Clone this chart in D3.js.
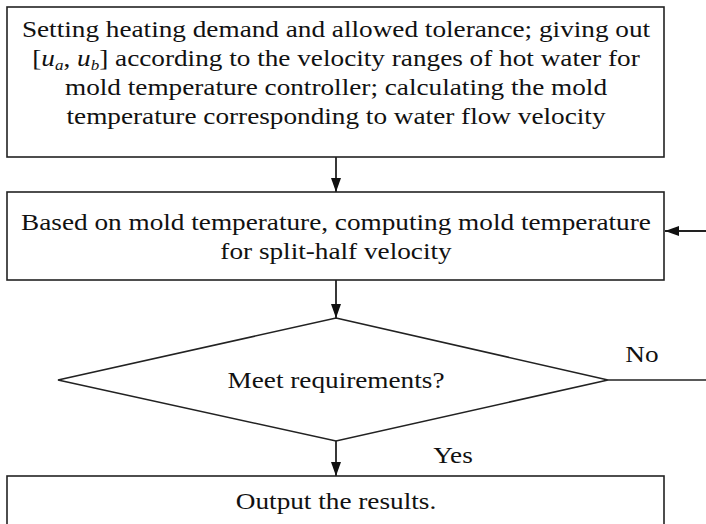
<!DOCTYPE html>
<html>
<head>
<meta charset="utf-8">
<script src="https://cdn.jsdelivr.net/npm/d3@7"></script>
<style>
  body { margin: 0; background: #fff; }
  text { font-family: "Liberation Serif", "Times New Roman", serif; fill: #111; }
</style>
</head>
<body>
<div id="chart"></div>
<script>
// flowchart content
const stepLines1 = [
  "Setting heating demand and allowed tolerance; giving out",
  "[ua, ub] according to the velocity ranges of hot water for",
  "mold temperature controller; calculating the mold",
  "temperature corresponding to water flow velocity"
];
const stepLines2 = [
  "Based on mold temperature, computing mold temperature",
  "for split-half velocity"
];
const decisionText = "Meet requirements?";
const outputText = "Output the results.";
const branchLabels = ["No", "Yes"];

/** CONSTANTS */
const width = 706, height = 524;
const boxLeft = 7, boxRight = 664, cx = 336;
const fontSize = 24, lineGap = 29, stretch = 1.135;
const stroke = "#222";

const svg = d3.select("#chart").append("svg")
  .attr("width", width)
  .attr("height", height);

svg.append("defs").append("marker")
  .attr("id", "arrow")
  .attr("viewBox", "0 0 10 10")
  .attr("refX", 10).attr("refY", 5)
  .attr("markerWidth", 14).attr("markerHeight", 10)
  .attr("markerUnits", "userSpaceOnUse")
  .attr("orient", "auto")
  .attr("preserveAspectRatio", "none")
  .append("path")
  .attr("d", "M0,0 L10,5 L0,10 z")
  .attr("fill", "#111");

// boxes: top, bottom
const boxes = [
  { y0: 7, y1: 157 },
  { y0: 192, y1: 280 },
  { y0: 476, y1: 540 }
];

svg.selectAll("rect.box")
  .data(boxes)
  .join("rect")
  .attr("class", "box")
  .attr("x", boxLeft)
  .attr("y", d => d.y0)
  .attr("width", boxRight - boxLeft)
  .attr("height", d => d.y1 - d.y0)
  .attr("fill", "none")
  .attr("stroke", stroke)
  .attr("stroke-width", 1.6);

// centred text, slightly wide like the source figure
function label(x, y, str) {
  return svg.append("text")
    .attr("transform", `translate(${x},${y}) scale(${stretch},1)`)
    .attr("dy", "0.35em")
    .attr("text-anchor", "middle")
    .style("font-size", fontSize + "px")
    .text(str);
}

function block(lines, centerY) {
  const startY = centerY - (lines.length - 1) * lineGap / 2;
  lines.forEach((ln, i) => {
    const y = startY + i * lineGap;
    if (ln.startsWith("[ua, ub]")) {
      const t = label(cx, y, null);
      t.append("tspan").text("[");
      t.append("tspan").style("font-style", "italic").text("u");
      t.append("tspan").attr("baseline-shift", "-25%").style("font-size", "15px").style("font-style", "italic").text("a");
      t.append("tspan").text(", ");
      t.append("tspan").style("font-style", "italic").text("u");
      t.append("tspan").attr("baseline-shift", "-25%").style("font-size", "15px").style("font-style", "italic").text("b");
      t.append("tspan").text(ln.slice(7));
    } else {
      label(cx, y, ln);
    }
  });
}

block(stepLines1, 72);
block(stepLines2, 236);

// diamond
const dia = { top: 318, bottom: 441, left: 58, right: 608, mid: 380 };
svg.append("path")
  .attr("d", `M${cx},${dia.top} L${dia.right},${dia.mid} L${cx},${dia.bottom} L${dia.left},${dia.mid} Z`)
  .attr("fill", "none")
  .attr("stroke", stroke)
  .attr("stroke-width", 1.6);

label(cx, dia.mid, decisionText);
label(642, 354, branchLabels[0]);
label(453, 455, branchLabels[1]);
block([outputText], 500.5);

// connectors
const arrows = [
  [[cx, boxes[0].y1], [cx, boxes[1].y0]],
  [[cx, boxes[1].y1], [cx, dia.top]],
  [[cx, dia.bottom], [cx, boxes[2].y0]],
  [[width, 231], [boxRight + 1, 231]]
];
svg.selectAll("line.arrow")
  .data(arrows)
  .join("line")
  .attr("class", "arrow")
  .attr("x1", d => d[0][0]).attr("y1", d => d[0][1])
  .attr("x2", d => d[1][0]).attr("y2", d => d[1][1])
  .attr("stroke", stroke)
  .attr("stroke-width", 1.8)
  .attr("marker-end", "url(#arrow)");

// "No" branch line leaving the diamond
svg.append("line")
  .attr("x1", dia.right).attr("y1", dia.mid)
  .attr("x2", width).attr("y2", dia.mid)
  .attr("stroke", stroke)
  .attr("stroke-width", 1.6);
</script>
</body>
</html>
